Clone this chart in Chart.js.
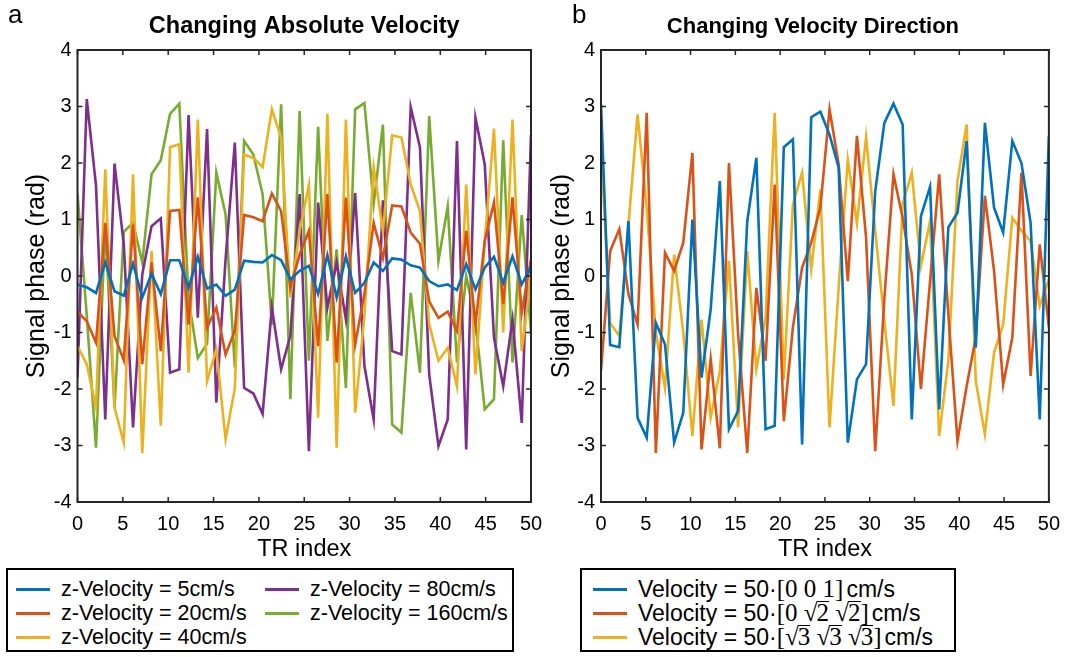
<!DOCTYPE html>
<html>
<head>
<meta charset="utf-8">
<script src="https://cdn.jsdelivr.net/npm/chart.js@4.4.1/dist/chart.umd.min.js"></script>
<style>
  body { margin: 0; background: #fff; font-family: "Liberation Sans", Arial, sans-serif; }
  #wrap { position: relative; width: 1070px; height: 657px; overflow: hidden; background: #fff; }
  canvas { position: absolute; top: 0; }
  .legend { position: absolute; border: 2px solid #000; box-sizing: border-box; background: #fff; }
  .item { position: absolute; font-size: 21.5px; line-height: 24px; white-space: nowrap; color: #000; }
  #legB .item { font-size: 23px; line-height: 23.5px; }
  .item i { display: inline-block; width: 34px; height: 3px; vertical-align: middle; margin-right: 11px; position: relative; top: -1px; }
  .serif { font-family: "Liberation Serif", "Times New Roman", serif; font-size: 25px; margin-right: 3px; }
  .ov { display: inline-block; border-top: 1.3px solid #000; line-height: 0.86em; margin-left: -1px; }
</style>
</head>
<body>
<div id="wrap">
  <canvas id="cA" width="560" height="565" style="left:0"></canvas>
  <canvas id="cB" width="525" height="565" style="left:545px"></canvas>
  <div class="legend" id="legA" style="left:6px;top:568px;width:508px;height:84px"></div>
  <div class="legend" id="legB" style="left:580px;top:568px;width:376px;height:84px"></div>
</div>
<script>
// 50 samples spread over TR index 0..50
const N = 50;
const TR = Array.from({length: N}, (_, i) => i * 50 / (N - 1));
const X_TICKS = [0, 5, 10, 15, 20, 25, 30, 35, 40, 45, 50];
const Y_TICKS = [-4, -3, -2, -1, 0, 1, 2, 3, 4];

// panel a: changing absolute velocity
const vel5 = [-0.15,-0.2,-0.3,0.24,-0.27,-0.35,0.22,-0.38,0.04,-0.32,0.28,0.28,-0.21,0.34,-0.22,-0.15,-0.35,-0.24,0.27,0.25,0.24,0.37,0.28,-0.06,0.09,0.18,-0.32,0.37,-0.38,0.35,-0.3,-0.12,0.24,0.09,0.31,0.29,0.19,0.15,-0.09,-0.18,-0.15,-0.25,0.21,-0.24,0.15,0.34,-0.12,0.35,-0.15,0.17];
const vel20 = [-0.63,-0.8,-1.18,0.94,-1.06,-1.49,0.91,-1.56,0.24,-1.33,1.15,1.17,-0.86,1.39,-0.91,-0.56,-1.39,-0.97,1.08,1.04,0.97,1.46,1.15,-0.21,0.38,0.8,-1.24,1.45,-1.53,1.39,-1.21,-0.32,0.94,0.32,1.25,1.23,0.77,0.57,-0.45,-0.74,-0.63,-0.97,0.8,-0.86,0.62,1.3,-0.5,1.39,-0.65,0.3];
const vel40 = [-1.24,-1.56,-2.33,1.89,-2.33,-2.95,1.8,-3.13,0.44,-2.65,2.28,2.33,-1.71,2.77,-1.86,-1.3,-2.89,-1.98,2.15,2.09,1.93,2.95,2.45,-0.38,0.8,1.61,-2.51,2.87,-3.04,2.77,-2.42,-0.7,1.92,0.8,2.49,2.45,1.62,1.15,-0.85,-1.5,-1.27,-1.95,1.62,-1.74,0.6,2.61,-1.0,2.77,-1.33,0.0];
const vel80 = [-1.8,3.13,1.6,-2.54,1.99,0.56,-2.68,0.03,0.88,1.02,-1.71,-1.65,2.85,-0.74,2.6,-2.24,0.3,2.36,-1.98,-2.08,-2.44,-0.56,-1.65,-1.06,1.45,-3.1,1.3,-0.56,0.24,-0.77,1.47,-1.59,-2.54,1.34,-1.33,-1.39,2.99,2.28,-1.74,-3.01,-2.54,2.39,-3.07,2.8,1.98,-1.09,-1.95,-0.77,-2.6,2.5];
const vel160 = [1.45,-0.7,-3.04,0.9,-2.33,0.78,0.94,0.24,1.8,2.05,2.87,3.05,-0.4,-1.45,-1.2,1.83,1.09,-1.62,2.39,2.15,1.45,-0.86,3.04,-2.18,2.92,-1.5,2.64,-1.15,0.47,-1.98,2.95,3.06,1.27,2.68,-2.63,-2.77,-0.3,-1.71,2.83,0.27,1.23,-1.53,0.0,-0.8,-2.36,-2.18,2.4,-1.53,1.08,-1.0];

// panel b: changing velocity direction (|v| = 50 cm/s)
const dir001 = [3.04,-1.22,-1.26,0.97,-2.51,-2.86,-0.83,-1.21,-2.95,-2.42,1.0,-1.8,-0.59,1.68,-2.71,-2.39,0.97,2.09,-2.71,-2.65,2.28,2.42,-2.98,2.81,2.91,2.5,1.92,-2.95,-1.83,-1.56,1.5,2.71,3.05,2.68,-2.54,1.06,1.58,-2.36,0.86,1.12,2.39,-1.27,2.71,1.21,0.77,2.39,2.0,0.94,-2.54,2.48];
const dir022 = [-1.68,0.44,0.83,-0.32,-0.86,2.89,-3.13,0.41,0.09,0.59,2.18,-3.07,-1.47,-3.05,2.0,-1.03,-3.13,-0.21,-1.5,1.62,-2.57,-0.9,0.15,0.59,1.21,2.95,1.98,-0.09,2.48,0.68,-3.1,-0.4,1.8,1.03,0.03,-2.0,-0.09,1.8,-0.68,-2.92,-1.95,-1.09,1.42,0.09,-1.92,-1.09,1.83,-1.77,0.56,-0.91];
const dir333 = [2.3,-0.83,-1.06,0.9,2.86,1.2,-1.0,-1.98,0.38,-1.0,-2.83,-0.77,-2.51,-1.68,0.27,-2.68,0.44,-1.65,-0.74,2.89,-1.83,1.27,1.83,0.12,1.53,-2.68,-0.2,2.06,0.93,2.46,0.8,-0.8,-2.3,1.27,1.83,0.18,0.97,-2.83,-1.5,1.68,2.68,-1.86,-2.8,-1.36,-0.86,1.03,0.8,0.62,-0.53,-0.06];

const BLUE = '#0072BD', ORANGE = '#D95319', YELLOW = '#EDB120', PURPLE = '#7E2F8E', GREEN = '#77AC30';
const FF = '"Liberation Sans", Arial, sans-serif';

const seriesA = [
  { name: 'z-Velocity = 5cm/s', values: vel5, color: BLUE },
  { name: 'z-Velocity = 20cm/s', values: vel20, color: ORANGE },
  { name: 'z-Velocity = 40cm/s', values: vel40, color: YELLOW },
  { name: 'z-Velocity = 80cm/s', values: vel80, color: PURPLE },
  { name: 'z-Velocity = 160cm/s', values: vel160, color: GREEN },
];
const seriesB = [
  { name: ['Velocity = 50·', '[0 0 1]', 'cm/s'], values: dir001, color: BLUE },
  { name: ['Velocity = 50·', '[0 √<span class="ov">2</span> √<span class="ov">2</span>]', 'cm/s'], values: dir022, color: ORANGE },
  { name: ['Velocity = 50·', '[√<span class="ov">3</span> √<span class="ov">3</span> √<span class="ov">3</span>]', 'cm/s'], values: dir333, color: YELLOW },
];

// box with inward ticks on all four sides, plus title and panel letter
const frame = {
  id: 'frame',
  afterDatasetsDraw(chart, args, o) {
    const { ctx, chartArea: a, scales: { x, y } } = chart;
    ctx.save();
    ctx.strokeStyle = '#262626';
    ctx.lineWidth = 2;
    ctx.strokeRect(a.left, a.top, a.right - a.left, a.bottom - a.top);
    ctx.lineWidth = 1.5;
    ctx.beginPath();
    X_TICKS.forEach(v => {
      const px = x.getPixelForValue(v);
      ctx.moveTo(px, a.bottom); ctx.lineTo(px, a.bottom - 5);
      ctx.moveTo(px, a.top); ctx.lineTo(px, a.top + 5);
    });
    Y_TICKS.forEach(v => {
      const py = y.getPixelForValue(v);
      ctx.moveTo(a.left, py); ctx.lineTo(a.left + 5, py);
      ctx.moveTo(a.right, py); ctx.lineTo(a.right - 5, py);
    });
    ctx.stroke();
    ctx.fillStyle = '#000';
    ctx.textBaseline = 'middle';
    ctx.textAlign = 'center';
    ctx.font = 'bold ' + o.titleSize + 'px ' + FF;
    ctx.fillText(o.title, (a.left + a.right) / 2 + o.titleShift, 27);
    ctx.textAlign = 'left';
    ctx.font = '26px ' + FF;
    ctx.fillText(o.letter, o.letterX, 16);
    ctx.restore();
  }
};

function makeChart(id, series, o) {
  return new Chart(document.getElementById(id), {
    type: 'line',
    data: {
      datasets: series.map(s => ({
        label: Array.isArray(s.name) ? s.name.join('') : s.name,
        data: s.values.map((v, i) => ({ x: TR[i], y: v })),
        borderColor: s.color, borderWidth: 2.6, pointRadius: 0, tension: 0, fill: false,
      })),
    },
    options: {
      responsive: false, animation: false,
      layout: { padding: { top: 50, right: o.padRight, left: 0, bottom: 0 } },
      plugins: {
        legend: { display: false }, tooltip: { enabled: false },
        frame: { title: o.title, titleSize: o.titleSize, titleShift: o.titleShift, letter: o.letter, letterX: o.letterX },
      },
      scales: {
        x: {
          type: 'linear', min: 0, max: 50,
          grid: { display: false, drawTicks: false }, border: { display: false },
          ticks: { stepSize: 5, padding: 10, autoSkip: false, maxRotation: 0, color: '#000', font: { size: 20, family: FF } },
          title: { display: true, text: 'TR index', color: '#000', font: { size: 23.5, family: FF }, padding: { top: 0, bottom: 1 } },
          afterFit: s => { s.height = 63; },
        },
        y: {
          type: 'linear', min: -4, max: 4,
          grid: { display: false, drawTicks: false }, border: { display: false },
          ticks: { stepSize: 1, padding: 6, color: '#000', font: { size: 20, family: FF } },
          title: { display: true, text: 'Signal phase (rad)', color: '#000', font: { size: 25, family: FF }, padding: { top: o.yTitlePad, bottom: 0 } },
          afterFit: s => { s.width = o.yWidth; },
        },
      },
    },
    plugins: [frame],
  });
}

makeChart('cA', seriesA, { title: 'Changing Absolute Velocity', titleSize: 23.5, titleShift: 0, letter: 'a', letterX: 8, padRight: 29, yWidth: 77.5, yTitlePad: 22 });
makeChart('cB', seriesB, { title: 'Changing Velocity Direction', titleSize: 22, titleShift: -12, letter: 'b', letterX: 27, padRight: 18, yWidth: 56, yTitlePad: 2 });

// legends
const legA = document.getElementById('legA');
const posA = [[8, 7], [8, 31], [8, 55], [257, 7], [257, 31]];
seriesA.forEach((s, k) => {
  const d = document.createElement('div');
  d.className = 'item';
  d.style.left = posA[k][0] + 'px'; d.style.top = posA[k][1] + 'px';
  d.innerHTML = `<i style="background:${s.color}"></i>${s.name}`;
  legA.appendChild(d);
});
const legB = document.getElementById('legB');
seriesB.forEach((s, k) => {
  const d = document.createElement('div');
  d.className = 'item';
  d.style.left = '11px'; d.style.top = (7 + k * 24) + 'px';
  d.innerHTML = `<i style="background:${s.color}"></i>${s.name[0]}<span class="serif">${s.name[1]}</span>${s.name[2]}`;
  legB.appendChild(d);
});
</script>
</body>
</html>
